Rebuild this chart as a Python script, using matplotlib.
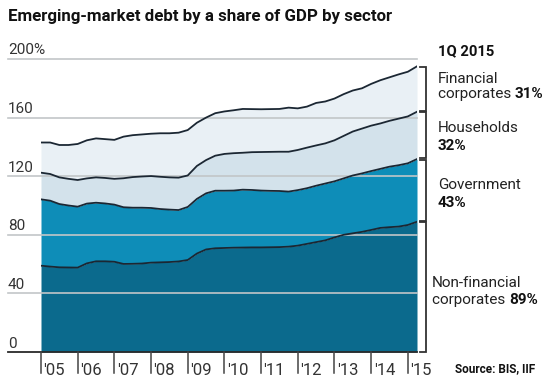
import matplotlib
matplotlib.use("Agg")
import matplotlib.pyplot as plt
import matplotlib.transforms as mtransforms

# ---- data (stacked boundaries, % of GDP), quarterly 2005Q1 .. 2015Q1 ----
quarters = [2005 + 0.25 * i for i in range(42)]
nonfin_top = [58.9, 58.3, 57.8, 57.7, 57.6, 60.5, 61.9, 61.9, 61.6, 60.1,
              60.2, 60.4, 61.0, 61.2, 61.4, 61.8, 62.8, 67.2, 70.0, 70.8,
              71.0, 71.2, 71.3, 71.4, 71.4, 71.5, 71.6, 71.9, 72.6, 73.8,
              75.0, 76.2, 78.2, 80.0, 81.0, 82.0, 83.3, 84.7, 85.2, 85.6,
              86.7, 88.9]
gov_top = [104.2, 103.3, 101.0, 100.0, 99.2, 101.3, 101.9, 101.4, 100.6, 98.8,
           98.5, 98.5, 98.3, 97.6, 97.2, 96.9, 99.0, 104.5, 108.3, 110.1,
           110.1, 110.2, 110.8, 110.6, 110.2, 110.0, 109.9, 109.5, 110.5, 111.8,
           113.5, 115.0, 116.5, 118.5, 120.5, 121.9, 123.5, 125.0, 126.5, 127.5,
           128.8, 131.7]
hh_top = [122.4, 121.5, 119.2, 118.2, 117.4, 118.5, 119.2, 118.8, 118.2, 118.6,
          119.4, 119.8, 120.1, 119.6, 119.2, 119.0, 120.5, 127.0, 131.0, 134.0,
          135.2, 135.7, 136.0, 136.4, 136.5, 136.6, 136.7, 136.7, 137.9, 139.5,
          141.0, 142.4, 144.5, 147.5, 150.5, 152.5, 154.5, 156.0, 157.8, 159.3,
          160.8, 164.0]
fin_top = [143.0, 143.0, 141.3, 141.3, 142.0, 144.5, 145.8, 145.3, 144.8, 147.0,
           148.0, 148.5, 149.0, 149.3, 149.3, 149.7, 151.5, 156.5, 160.0, 163.0,
           164.2, 165.0, 165.9, 165.8, 165.7, 165.8, 165.9, 166.8, 166.3, 167.5,
           170.0, 171.0, 173.0, 176.0, 178.5, 180.0, 183.0, 185.5, 187.5, 189.5,
           191.3, 195.0]

y_ticks = [0, 40, 80, 120, 160, 200]
y_tick_labels = ["0", "40", "80", "120", "160", "200%"]
x_ticks = list(range(2005, 2016))
x_tick_labels = ["'05", "'06", "'07", "'08", "'09", "'10", "'11", "'12", "'13", "'14", "'15"]

sector_pcts = ["31%", "32%", "43%", "89%"]

FONT = "Roboto"
plt.rcParams["font.family"] = [FONT, "DejaVu Sans"]

fig = plt.figure(figsize=(5.5, 3.85), dpi=100)
W, H = 550, 385
x0, x1 = 41, 417
y0, y1 = 352, 59
ax = fig.add_axes([x0 / W, (H - y0) / H, (x1 - x0) / W, (y0 - y1) / H])
ax.set_xlim(2005, 2015.25)
ax.set_ylim(0, 200)
ax.axis("off")

c_nonfin = "#0b6a8d"
c_gov = "#0e8db8"
c_hh = "#d3e2eb"
c_fin = "#e9f0f5"
c_line = "#1b2733"

zeros = [0] * len(quarters)
ax.fill_between(quarters, zeros, nonfin_top, color=c_nonfin, lw=0, zorder=1)
ax.fill_between(quarters, nonfin_top, gov_top, color=c_gov, lw=0, zorder=1)
ax.fill_between(quarters, gov_top, hh_top, color=c_hh, lw=0, zorder=1)
ax.fill_between(quarters, hh_top, fin_top, color=c_fin, lw=0, zorder=1)

xl = (8 - x0) / (x1 - x0)
for t in y_ticks[1:]:
    ax.axhline(t, xmin=xl, xmax=1, color="#c2c6c8", lw=1.2, zorder=2, clip_on=False)
ax.axhline(0, xmin=xl, xmax=1, color="#2a2a2a", lw=1.3, zorder=4, clip_on=False)

for s in (nonfin_top, gov_top, hh_top, fin_top):
    ax.plot(quarters, s, color=c_line, lw=1.3, zorder=3, solid_joinstyle="round")

blend = mtransforms.blended_transform_factory(ax.transAxes, ax.transData)
for t, lab in zip(y_ticks, y_tick_labels):
    ax.annotate(lab, xy=(xl, t), xycoords=blend, xytext=(0, 4.5), textcoords="offset pixels",
                ha="left", va="baseline", fontsize=11, color="#333333")

for t, lab in zip(x_ticks, x_tick_labels):
    ax.plot([t, t], [0, -21 / 1.465], color="#444444", lw=1.1, clip_on=False, zorder=4)
    ax.annotate(lab, xy=(t, 0), xycoords="data", xytext=(2.5, -23), textcoords="offset pixels",
                ha="left", va="baseline", fontsize=12, color="#333333")

# brackets
bx = (426 - x0) / (x1 - x0)
sx = (420 - x0) / (x1 - x0)
bounds = [(fin_top[-1], hh_top[-1]), (hh_top[-1], gov_top[-1]),
          (gov_top[-1], nonfin_top[-1]), (nonfin_top[-1], 0)]
for i, (top, bot) in enumerate(bounds):
    ta = top - 0.4
    ba = bot + 0.4 if i < 3 else 0
    ax.plot([sx, bx, bx, sx], [ta, ta, ba, ba], transform=blend, color="#333333",
            lw=1.3, clip_on=False, solid_joinstyle="miter")

tx = (438 - x0) / (x1 - x0)
tx2 = (432 - x0) / (x1 - x0)
FS = 11
ax.text(tx, 202.7, "1Q 2015", transform=blend, fontsize=10.6, fontweight="bold",
        ha="left", va="baseline", color="#111111")


def label(x, y_first, y_second, first, second_reg, pct):
    ax.text(x, y_first, first, transform=blend, fontsize=FS, ha="left", va="baseline", color="#222222")
    t = ax.text(x, y_second, second_reg, transform=blend, fontsize=FS, ha="left",
                va="baseline", color="#222222")
    ax.annotate(pct, xy=(1, 0), xycoords=t, ha="left", va="bottom", fontsize=FS,
                fontweight="bold", color="#111111")


label(tx, 183.6, 173.2, "Financial", "corporates ", sector_pcts[0])
ax.text(tx, 150.0, "Households", transform=blend, fontsize=FS, ha="left", va="baseline", color="#222222")
ax.text(tx, 137.9, sector_pcts[1], transform=blend, fontsize=FS, fontweight="bold",
        ha="left", va="baseline", color="#111111")
ax.text(tx, 111.0, "Government", transform=blend, fontsize=FS, ha="left", va="baseline", color="#222222")
ax.text(tx, 99.2, sector_pcts[2], transform=blend, fontsize=FS, fontweight="bold",
        ha="left", va="baseline", color="#111111")
label(tx2, 44.6, 32.8, "Non-financial", "corporates ", sector_pcts[3])

fig.text(8 / W, 1 - 21 / H, "Emerging-market debt by a share of GDP by sector", fontsize=12.2,
         fontweight="bold", ha="left", va="baseline", color="#111111")
fig.text(455 / W, 1 - 372 / H, "Source: BIS, IIF", fontsize=8.5, fontweight="bold",
         ha="left", va="baseline", color="#111111")

fig.savefig("out.png", dpi=100)
